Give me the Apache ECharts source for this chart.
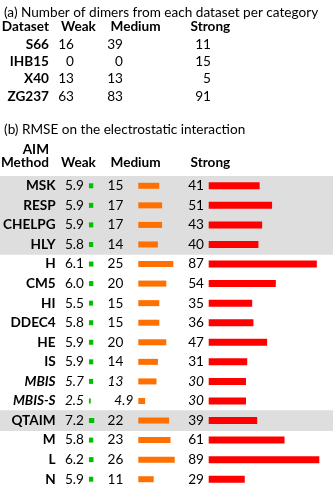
<!DOCTYPE html>
<html><head><meta charset="utf-8">
<script src="https://cdn.jsdelivr.net/npm/echarts@6/dist/echarts.min.js"></script>
<style>html,body{margin:0;padding:0;background:#fff}#c{width:333px;height:489px}</style>
</head><body><div id="c"></div>
<script>
// ---- (a) counts ----
const datasets = ['S66', 'IHB15', 'X40', 'ZG237'];
const countWeak = [16, 0, 13, 63];
const countMedium = [39, 0, 13, 83];
const countStrong = [11, 15, 5, 91];

// ---- (b) RMSE ----
const methods = ['MSK', 'RESP', 'CHELPG', 'HLY', 'H', 'CM5', 'HI', 'DDEC4', 'HE', 'IS', 'MBIS', 'MBIS-S', 'QTAIM', 'M', 'L', 'N'];
const rmseWeak = [5.9, 5.9, 5.9, 5.8, 6.1, 6.0, 5.5, 5.8, 5.9, 5.9, 5.7, 2.5, 7.2, 5.8, 6.2, 5.9];
const rmseMedium = [15, 17, 17, 14, 25, 20, 15, 15, 20, 14, 13, 4.9, 22, 23, 26, 11];
const rmseStrong = [41, 51, 43, 40, 87, 54, 35, 36, 47, 31, 30, 30, 39, 61, 89, 29];
const italicMethods = ['MBIS', 'MBIS-S'];
const shadedMethods = ['MSK', 'RESP', 'CHELPG', 'HLY', 'QTAIM'];

const titleA = '(a) Number of dimers from each dataset per category';
const titleB = '(b) RMSE on the electrostatic interaction';
const colHeaders = ['Weak', 'Medium', 'Strong'];

const FONT = 'Lato';
const FS = 13.6;
const ROW_TOP = 176, ROW_H = 19.94;
const N = methods.length;

const chart = echarts.init(document.getElementById('c'), null, {renderer: 'canvas'});

function txt(str, x, y, align, bold, italic) {
  return {
    type: 'text', x: x, y: y,
    style: {
      text: str, x: 0, y: 0, fill: '#000',
      font: (italic ? 'italic ' : '') + (bold ? 'bold ' : '') + FS + 'px ' + FONT,
      textAlign: align, textVerticalAlign: 'middle'
    }
  };
}

const graphics = [];
graphics.push(txt(titleA, 4, 13, 'left', false));
graphics.push(txt('Dataset', 49, 26.5, 'right', true));
graphics.push(txt(colHeaders[0], 61, 26.5, 'left', true));
graphics.push(txt(colHeaders[1], 110.5, 26.5, 'left', true));
graphics.push(txt(colHeaders[2], 190.5, 26.5, 'left', true));
const aRowY0 = 44.3, aRowH = 17.3;
datasets.forEach((d, i) => {
  const y = aRowY0 + i * aRowH;
  graphics.push(txt(d, 49, y, 'right', true));
  graphics.push(txt(String(countWeak[i]), 74, y, 'right', false));
  graphics.push(txt(String(countMedium[i]), 123, y, 'right', false));
  graphics.push(txt(String(countStrong[i]), 211, y, 'right', false));
});
graphics.push(txt(titleB, 4, 130, 'left', false));
graphics.push(txt('AIM', 49, 150, 'right', true));
graphics.push(txt('Method', 49, 163, 'right', true));
graphics.push(txt(colHeaders[0], 61, 163, 'left', true));
graphics.push(txt(colHeaders[1], 110.5, 163, 'left', true));
graphics.push(txt(colHeaders[2], 190.5, 163, 'left', true));

const gridH = ROW_H * N;
const grids = [
  {left: 0, width: 333, top: ROW_TOP, height: gridH},        // shading
  {left: 82.3, width: 14, top: ROW_TOP, height: gridH},      // weak
  {left: 138.3, width: 42, top: ROW_TOP, height: gridH},     // medium
  {left: 208.7, width: 140, top: ROW_TOP, height: gridH}     // strong
];
const xMax = [1, 10, 30, 100];

const xAxes = grids.map((g, i) => ({
  type: 'value', gridIndex: i, min: 0, max: xMax[i], show: false
}));
const yAxes = grids.map((g, i) => ({
  type: 'category', gridIndex: i, data: methods, inverse: true,
  show: i === 1, z: 10,
  axisLine: {show: false}, axisTick: {show: false}, splitLine: {show: false},
  axisLabel: {
    show: i === 1, margin: 33.3,
    fontFamily: FONT, fontSize: FS, fontWeight: 'bold', color: '#000',
    formatter: v => italicMethods.includes(v) ? '{it|' + v + '}' : v,
    rich: {it: {fontFamily: FONT, fontSize: FS, fontWeight: 'bold', fontStyle: 'italic', color: '#000'}}
  }
}));

function barData(vals, fmt, distInt, distDec) {
  return vals.map((v, i) => {
    const it = italicMethods.includes(methods[i]);
    const isInt = Number.isInteger(v);
    return {
      value: v,
      label: {
        formatter: fmt(v),
        fontStyle: it ? 'italic' : 'normal',
        distance: isInt ? distInt : distDec
      }
    };
  });
}

const labelBase = {show: true, position: 'left', fontFamily: FONT, fontSize: FS, color: '#000'};

const series = [
  {
    type: 'bar', xAxisIndex: 0, yAxisIndex: 0, z: 0, silent: true,
    barWidth: ROW_H + 0.8, barCategoryGap: '0%',
    data: methods.map(m => shadedMethods.includes(m) ? 1 : 0),
    itemStyle: {color: '#dedede'}
  },
  {
    type: 'bar', xAxisIndex: 1, yAxisIndex: 1, barWidth: 5,
    itemStyle: {color: '#00c000'},
    label: labelBase,
    data: barData(rmseWeak, v => v.toFixed(1), 5, 5)
  },
  {
    type: 'bar', xAxisIndex: 2, yAxisIndex: 2, barWidth: 6,
    itemStyle: {color: '#ff7000'},
    label: labelBase,
    data: barData(rmseMedium, v => Number.isInteger(v) ? String(v) : v.toFixed(1), 15, 5)
  },
  {
    type: 'bar', xAxisIndex: 3, yAxisIndex: 3, barWidth: 7,
    itemStyle: {color: '#ff0000'},
    label: labelBase,
    data: barData(rmseStrong, v => String(v), 4.7, 4.7)
  }
];

chart.setOption({
  animation: false,
  grid: grids,
  xAxis: xAxes,
  yAxis: yAxes,
  series: series,
  graphic: graphics
});
</script>
</body></html>
